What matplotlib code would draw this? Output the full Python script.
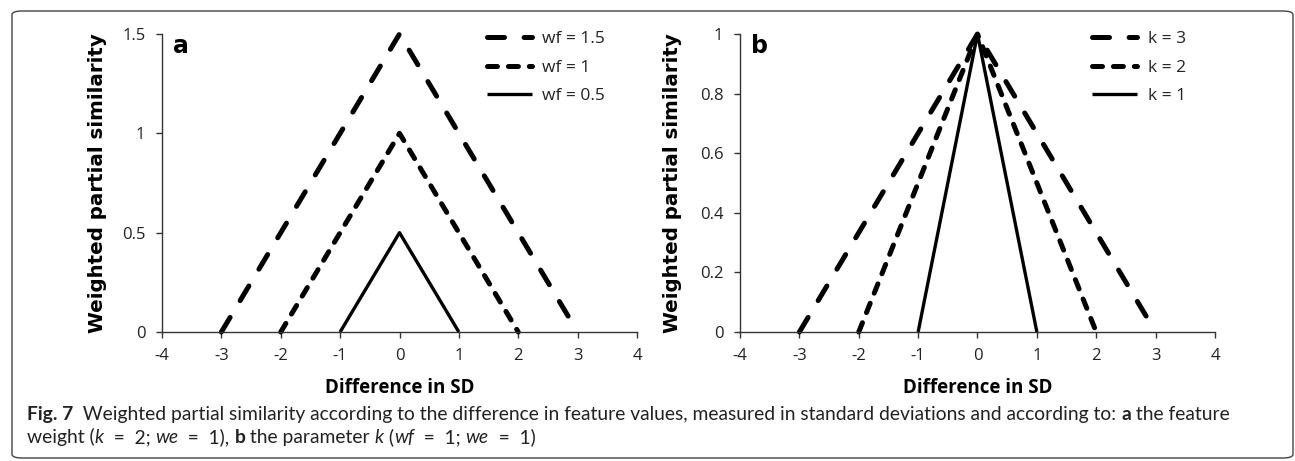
import matplotlib.pyplot as plt
from matplotlib.patches import FancyBboxPatch

# ── data ──────────────────────────────────────────────────────────────────────
X_TICKS = [-4, -3, -2, -1, 0, 1, 2, 3, 4]

A_LABELS = ["wf = 1.5", "wf = 1", "wf = 0.5"]
A_X = [[-3, 0, 3], [-2, 0, 2], [-1, 0, 1]]
A_Y = [[0, 1.5, 0], [0, 1, 0], [0, 0.5, 0]]
A_YTICKS = [0, 0.5, 1, 1.5]
A_YTICKLABELS = ["0", "0.5", "1", "1.5"]

B_LABELS = ["k = 3", "k = 2", "k = 1"]
B_X = [[-3, 0, 3], [-2, 0, 2], [-1, 0, 1]]
B_Y = [[0, 1, 0], [0, 1, 0], [0, 1, 0]]
B_YTICKS = [0, 0.2, 0.4, 0.6, 0.8, 1]
B_YTICKLABELS = ["0", "0.2", "0.4", "0.6", "0.8", "1"]

XLABEL = "Difference in SD"
YLABEL = "Weighted partial similarity"

# ── style ─────────────────────────────────────────────────────────────────────
W, H = 1295, 461
DPI = 100
TXT = "#222222"
FONT = "Open Sans"
# (linewidth pt, linestyle) for the three curves of each panel
STYLES = [
    (3.6, (0, (3.4, 3.92))),
    (3.6, (0, (2.0, 2.18))),
    (2.4, "-"),
]


def panel(ax, xs, ys, labels, yticks, yticklabels, letter, leg_x,
          left_px, ylab_px):
    for x, y, lab, (lw, ls) in zip(xs, ys, labels, STYLES):
        ax.plot(x, y, color="black", lw=lw, linestyle=ls, label=lab,
                dash_capstyle="round", solid_capstyle="butt", clip_on=False)
    ax.set_xlim(-4, 4)
    ax.set_ylim(yticks[0], yticks[-1])
    ax.set_xticks(X_TICKS)
    ax.set_xticklabels([str(t) for t in X_TICKS])
    ax.set_yticks(yticks)
    ax.set_yticklabels(yticklabels)
    for s in ("top", "right"):
        ax.spines[s].set_visible(False)
    for s in ("left", "bottom"):
        ax.spines[s].set_linewidth(1.0)
        ax.spines[s].set_color("#333333")
    ax.tick_params(direction="out", length=4.5, width=1.0, color="#333333",
                   labelsize=12, labelcolor=TXT)
    ax.tick_params(axis="x", pad=7)
    ax.tick_params(axis="y", pad=7.5)
    for t in ax.get_xticklabels() + ax.get_yticklabels():
        t.set_family(FONT)

    ax.set_xlabel(XLABEL, family=FONT, fontweight="bold", fontsize=13.5,
                  color="black", va="center")
    ax.xaxis.set_label_coords(0.5, -(388 - 332) / 298)
    ax.set_ylabel(YLABEL, family="DejaVu Sans", fontweight="bold",
                  fontsize=14.3, color="black", va="center")
    ax.yaxis.set_label_coords(-(left_px - ylab_px) / 475, 0.5)

    ax.text(0.024, 1.0, letter, transform=ax.transAxes, fontsize=17,
            fontweight="bold", family="DejaVu Sans", ha="left", va="top")
    ax.legend(loc="upper left", bbox_to_anchor=(leg_x, 1.01),
              frameon=False, handlelength=2.6, labelspacing=0.72,
              handletextpad=0.6, borderaxespad=0, borderpad=0,
              labelcolor=TXT, prop={"family": FONT, "size": 12.5})


fig = plt.figure(figsize=(W / DPI, H / DPI), dpi=DPI)

ax_a = fig.add_axes([162 / W, 1 - 332 / H, 475 / W, 298 / H])
ax_b = fig.add_axes([740 / W, 1 - 332 / H, 475 / W, 298 / H])

panel(ax_a, A_X, A_Y, A_LABELS, A_YTICKS, A_YTICKLABELS, "a", 0.684, 162, 98)
panel(ax_b, B_X, B_Y, B_LABELS, B_YTICKS, B_YTICKLABELS, "b", 0.741, 740, 673)

# rounded frame around the whole figure
frame = FancyBboxPatch((12 / W, 3 / H), 1281 / W, 447 / H,
                       boxstyle="round,pad=0,rounding_size=0.008",
                       transform=fig.transFigure, fill=False,
                       edgecolor="#444444", lw=1.0)
fig.patches.append(frame)

# caption written run by run (bold / italic pieces)
EQ = "\u2002=\u2002"
CAPTION = [
    [("Fig. 7", "bold", "normal"),
     ("  Weighted partial similarity according to the difference in feature values, "
      "measured in standard deviations and according to: ", "normal", "normal"),
     ("a", "bold", "normal"), (" the feature", "normal", "normal")],
    [("weight (", "normal", "normal"), ("k", "normal", "italic"),
     (EQ + "2; ", "normal", "normal"), ("we", "normal", "italic"),
     (EQ + "1), ", "normal", "normal"), ("b", "bold", "normal"),
     (" the parameter ", "normal", "normal"), ("k", "normal", "italic"),
     (" (", "normal", "normal"), ("wf", "normal", "italic"),
     (EQ + "1; ", "normal", "normal"), ("we", "normal", "italic"),
     (EQ + "1)", "normal", "normal")],
]
CAP_FAMILY = ["Lato", "DejaVu Sans"]
CAP_WIDTH = 1202

fig.canvas.draw()
renderer = fig.canvas.get_renderer()


def write_line(line, ypix, size, draw=True):
    xpix = 27
    made = []
    for txt, weight, style in line:
        t = fig.text(xpix / W, 1 - ypix / H, txt, fontsize=size,
                     family=CAP_FAMILY, fontweight=weight, fontstyle=style,
                     color=TXT, ha="left", va="baseline")
        xpix += t.get_window_extent(renderer).width
        made.append(t)
    if not draw:
        for t in made:
            t.remove()
    return xpix - 27


# size the caption so the first line spans the same width as in the figure
probe = write_line(CAPTION[0], 420, 12, draw=False)
cap_size = 12 * CAP_WIDTH / probe
for line, ypix in zip(CAPTION, (420, 443)):
    write_line(line, ypix, cap_size)

fig.savefig("out.png", dpi=DPI, facecolor="white")
